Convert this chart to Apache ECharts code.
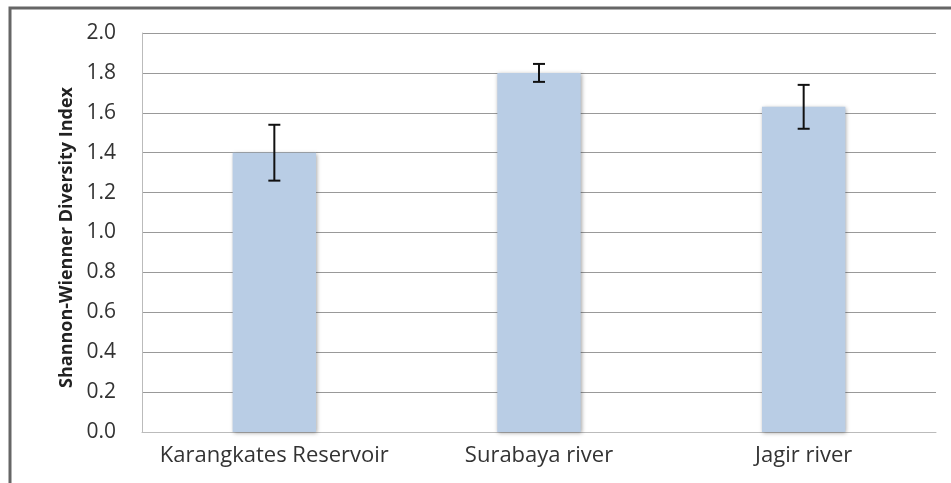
<!DOCTYPE html>
<html>
<head>
<meta charset="utf-8">
<script src="https://cdn.jsdelivr.net/npm/echarts@6/dist/echarts.min.js"></script>
<style>html,body{margin:0;padding:0;background:#fff}#c{width:951px;height:483px}</style>
</head>
<body>
<div id="c"></div>
<script>
var categories = ['Karangkates Reservoir', 'Surabaya river', 'Jagir river'];
var meanValues = [1.40, 1.80, 1.63];
var errorValues = [0.14, 0.045, 0.11];
var yTicks = [0, 0.2, 0.4, 0.6, 0.8, 1.0, 1.2, 1.4, 1.6, 1.8, 2.0];

var chart = echarts.init(document.getElementById('c'));
var errData = categories.map(function (c, i) {
  return [i, meanValues[i] - errorValues[i], meanValues[i] + errorValues[i]];
});
chart.setOption({
  animation: false,
  backgroundColor: '#fff',
  grid: { left: 142, right: 15, top: 33, bottom: 51 },
  graphic: [{
    type: 'rect', shape: { x: 10, y: 8, width: 960, height: 500 },
    style: { fill: 'none', stroke: '#666', lineWidth: 3 }, z: 100
  }],
  xAxis: {
    type: 'category', data: categories,
    axisLine: { lineStyle: { color: '#bbb', width: 1 } },
    axisTick: { show: false },
    axisLabel: { color: '#333', fontFamily: 'Open Sans', fontSize: 22, margin: 13, interval: 0 }
  },
  yAxis: {
    type: 'value', min: 0, max: 2, interval: 0.2,
    name: 'Shannon-Wienner Diversity Index', nameLocation: 'middle', nameGap: 64,
    nameTextStyle: { color: '#222', fontFamily: 'Open Sans', fontWeight: 'bold', fontSize: 18, padding: [0, 10, 0, 0] },
    axisLine: { show: true, lineStyle: { color: '#bbb' } },
    axisTick: { show: false },
    splitLine: { lineStyle: { color: '#999', width: 1 } },
    axisLabel: { color: '#333', fontFamily: 'Open Sans', fontSize: 21, margin: 26,
      formatter: function (v) { return v.toFixed(1); } }
  },
  series: [{
    type: 'bar', data: meanValues, barWidth: '31.5%',
    itemStyle: { color: '#b9cde5', shadowColor: 'rgba(0,0,0,0.35)', shadowBlur: 4, shadowOffsetX: 1, shadowOffsetY: 1 }
  }, {
    type: 'custom', data: errData, z: 10,
    renderItem: function (params, api) {
      var x = api.value(0);
      var lo = api.coord([x, api.value(1)]);
      var hi = api.coord([x, api.value(2)]);
      var hw = 6;
      var st = { stroke: '#111', lineWidth: 2 };
      return { type: 'group', children: [
        { type: 'line', shape: { x1: hi[0], y1: hi[1], x2: lo[0], y2: lo[1] }, style: st },
        { type: 'line', shape: { x1: hi[0] - hw, y1: hi[1], x2: hi[0] + hw, y2: hi[1] }, style: st },
        { type: 'line', shape: { x1: lo[0] - hw, y1: lo[1], x2: lo[0] + hw, y2: lo[1] }, style: st }
      ]};
    }
  }]
});
</script>
</body>
</html>
